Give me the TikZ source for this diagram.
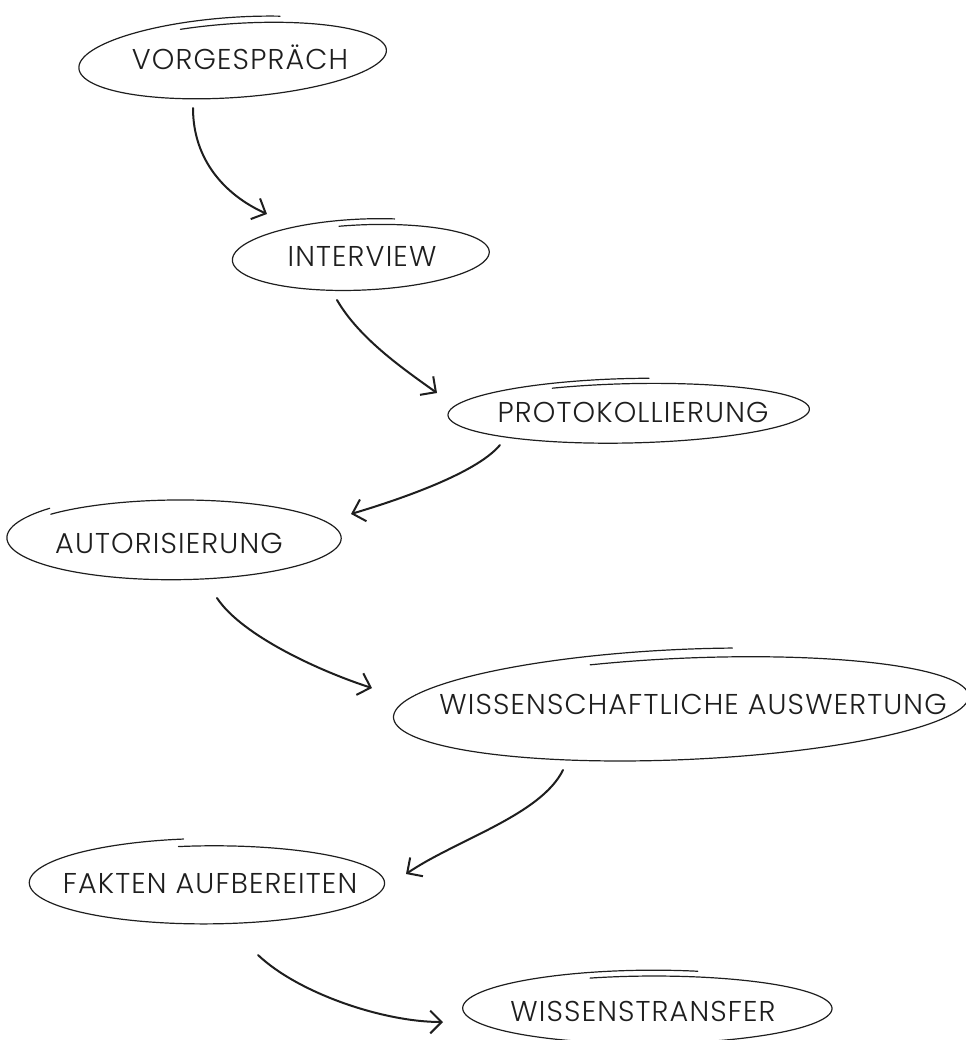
\documentclass[tikz,border=0pt]{standalone}
\usepackage{fontspec}
\usetikzlibrary{arrows.meta}
\newfontfamily\stepfont{Poppins Light}[LetterSpace=4]
\definecolor{ink}{HTML}{1E1E1E}
% hand drawn loop round a node: [shift/rotate]{node}{rx}{ry}{start angle}{end angle}
\newcommand\sketchloop[6][]{%
  \begin{scope}[shift={(#2.center)},#1]
    \draw[loopline] plot[domain=#5:#6,samples=140,smooth]
      ({#3*(1+0.04*(#5-\x)/(#5-(#6)))*cos(\x)},{-#4*(1+0.2*(#5-\x)/(#5-(#6)))*sin(\x)});
  \end{scope}}
\begin{document}
\begin{tikzpicture}[x=0.75pt,y=-0.75pt,
    every node/.style={font=\stepfont\fontsize{21.5}{25}\selectfont,text=ink,
      inner sep=0pt,text height=15pt,text depth=0pt},
    loopline/.style={draw=ink,line width=0.9pt,line cap=round},
    flow/.style={draw=ink,line width=1.5pt,line cap=round,
      -{Straight Barb[length=8.5pt,width=17pt]}}]
  \useasboundingbox (0,0) rectangle (966,1040);
  \draw
    (240,59) node (vorgespraech){VORGESPRÄCH}
    (362,256) node (interview){INTERVIEW}
    (633,412) node (protokoll){PROTOKOLLIERUNG}
    (169,543) node (autorisierung){AUTORISIERUNG}
    (693,704) node (auswertung){WISSENSCHAFTLICHE AUSWERTUNG}
    (210,883) node (fakten){FAKTEN AUFBEREITEN}
    (643,1011) node (transfer){WISSENSTRANSFER};
  % loops
  \sketchloop[xshift=-4.5pt,rotate=3.5]{vorgespraech}{151}{35}{110}{-288}
  \sketchloop[rotate=2]{interview}{126}{31}{100}{-285}
  \sketchloop[xshift=-2pt,rotate=1]{protokoll}{177}{28}{116}{-276}
  \sketchloop[xshift=5pt,yshift=3.75pt]{autorisierung}{163}{37}{140}{-222}
  \sketchloop[xshift=-7pt,yshift=-2pt,rotate=2.2]{auswertung}{282}{48}{109}{-280}
  \sketchloop[xshift=-1pt]{fakten}{174}{37}{100}{-262}
  \sketchloop[xshift=4.5pt,yshift=2pt]{transfer}{181}{32}{109}{-285}
  % arrows
  \begin{scope}
    \draw[flow] ([shift={(-47,49)}]vorgespraech.center) .. controls +(0,52) and +(-42,-19) .. ([shift={(-95,-42)}]interview.center);
    \draw[flow] ([shift={(-25,44)}]interview.center) .. controls +(22,38) and +(-35,-25) .. ([shift={(-196,-19)}]protokoll.center);
    \draw[flow] ([shift={(-133,33)}]protokoll.center) .. controls +(-25,30) and +(40,-12) .. ([shift={(182,-29)}]autorisierung.center);
    \draw[flow] ([shift={(48,55)}]autorisierung.center) .. controls +(25,38) and +(-50,-16) .. ([shift={(-321,-16)}]auswertung.center);
    \draw[flow] ([shift={(-130,66)}]auswertung.center) .. controls +(-22,45) and +(50,-34) .. ([shift={(196,-9)}]fakten.center);
    \draw[flow] ([shift={(48,72)}]fakten.center) .. controls +(40,38) and +(-60,0) .. ([shift={(-200,11)}]transfer.center);
  \end{scope}
\end{tikzpicture}
\end{document}
